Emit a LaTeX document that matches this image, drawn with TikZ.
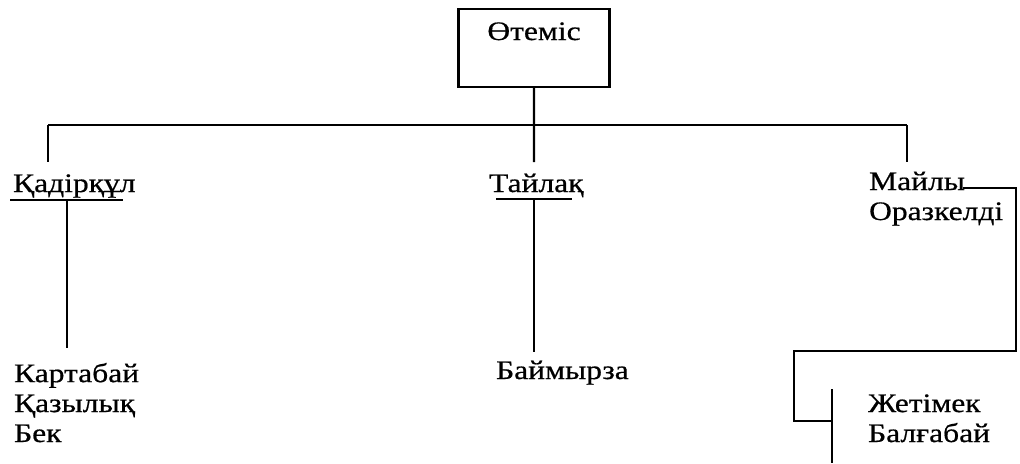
\documentclass[tikz,border=0pt]{standalone}
\usepackage{fontspec}
\newfontfamily\namefont[FakeStretch=1.18, FakeBold=0.6]{Liberation Serif}
\usetikzlibrary{positioning}

\begin{document}
\begin{tikzpicture}[x=0.025cm, y=-0.025cm, line width=1.6pt]
    \tikzstyle{every node}=[inner sep=0pt, font={\namefont\fontsize{19}{21.3}\selectfont}]
    \tikzstyle{person}=[anchor=base west, align=left]
    \tikzstyle{rootbox}=[draw, outer sep=0pt, anchor=north west, minimum width=3.775cm, text height=0.775cm, text depth=1.175cm]
    \useasboundingbox (0,0) rectangle (1020,463);
    % names (base = last line)
    \node [rootbox] (otemis) at (458.5,9) {Өтеміс};
    \node [person] (kadirqul) at (12,192) {Қадірқұл};
    \node [person] (tailaq) at (488,192) {Тайлақ};
    \node [person] (maily) at (868,220) {Майлы\\Оразкелді};
    \node [person] (kartabai) at (13,442) {Картабай\\Қазылық\\Бек};
    \node [person] (baimyrza) at (495,379) {Баймырза};
    \node [person] (zhetimek) at (867,442) {Жетімек\\Балғабай};
    % junction points
    \coordinate (barL) at (48,125);
    \coordinate (barR) at (907,125);
    \coordinate (kadirTop) at (48,162);
    \coordinate (tailaqTop) at (534,162);
    \coordinate (mailyTop) at (907,162);
    \coordinate (kadirUL) at (10,200);
    \coordinate (kadirUR) at (123,200);
    \coordinate (kadirDown) at (67,200);
    \coordinate (kartabaiTop) at (67,348);
    \coordinate (tailaqUL) at (496,199);
    \coordinate (tailaqUR) at (572,199);
    \coordinate (tailaqDown) at (534,199);
    \coordinate (baimyrzaTop) at (534,352);
    \coordinate (mailyEnd) at (963,188);
    \coordinate (sideR) at (1016,351);
    \coordinate (sideL) at (794,421);
    \coordinate (brkTop) at (832,389);
    \coordinate (brkBot) at (832,463);
    % connectors
    \draw (barL) -- (barR);
    \draw (otemis.south) -- (tailaqTop);
    \draw (barL) -- (kadirTop);
    \draw (barR) -- (mailyTop);
    \draw (kadirUL) -- (kadirUR);
    \draw (kadirDown) -- (kartabaiTop);
    \draw (tailaqUL) -- (tailaqUR);
    \draw (tailaqDown) -- (baimyrzaTop);
    \draw (mailyEnd) -| (sideR) -| (sideL) -- (sideL -| brkTop);
    \draw (brkTop) -- (brkBot);
\end{tikzpicture}
\end{document}
